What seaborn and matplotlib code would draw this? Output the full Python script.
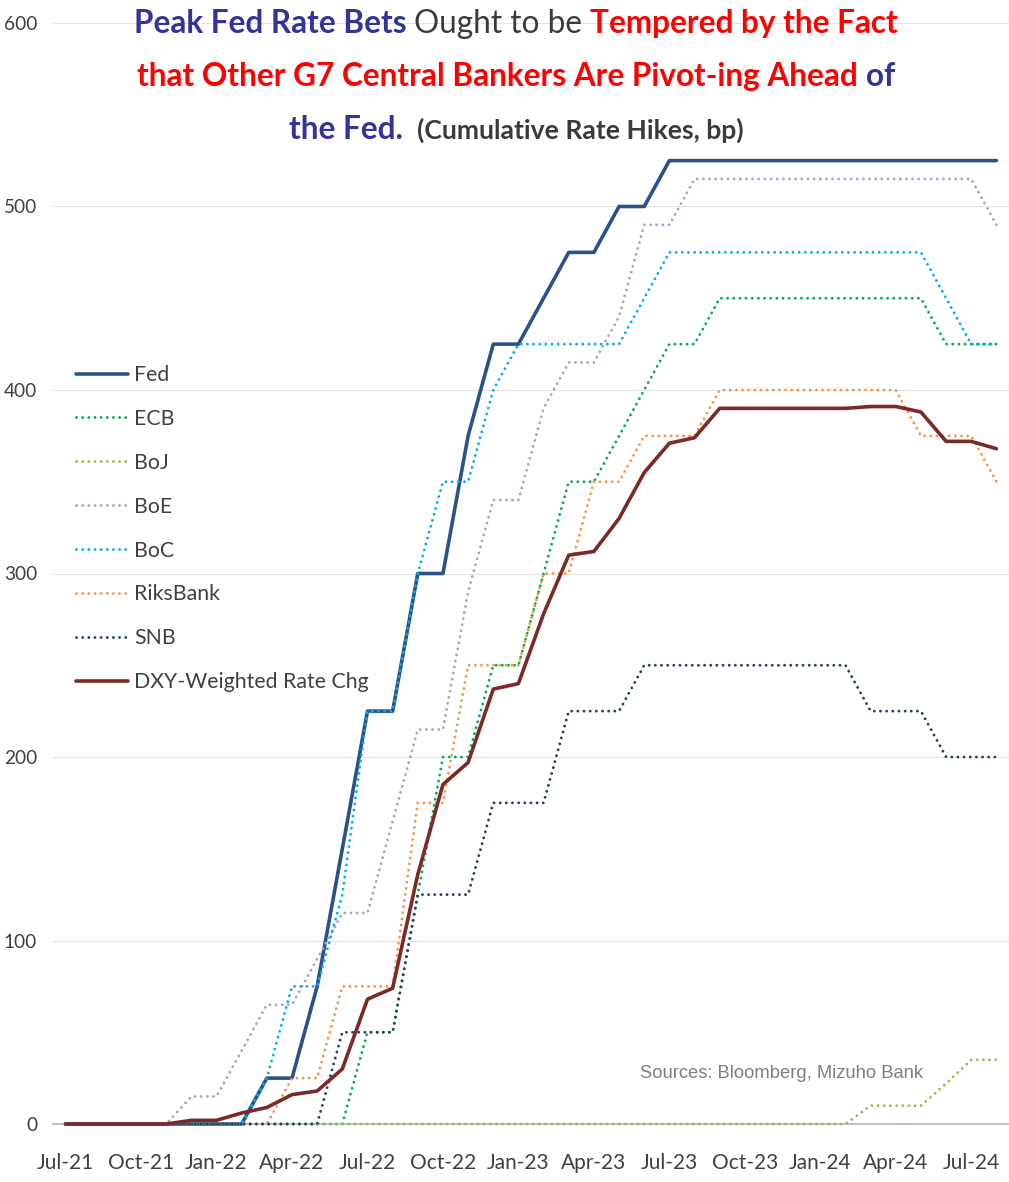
import matplotlib
matplotlib.use("Agg")
import matplotlib.pyplot as plt
from matplotlib.transforms import IdentityTransform
import numpy as np
import pandas as pd
import seaborn as sns

# ---------------- data ----------------
months = ["Jul-21", "Aug-21", "Sep-21", "Oct-21", "Nov-21", "Dec-21",
          "Jan-22", "Feb-22", "Mar-22", "Apr-22", "May-22", "Jun-22",
          "Jul-22", "Aug-22", "Sep-22", "Oct-22", "Nov-22", "Dec-22",
          "Jan-23", "Feb-23", "Mar-23", "Apr-23", "May-23", "Jun-23",
          "Jul-23", "Aug-23", "Sep-23", "Oct-23", "Nov-23", "Dec-23",
          "Jan-24", "Feb-24", "Mar-24", "Apr-24", "May-24", "Jun-24",
          "Jul-24", "Aug-24"]

fed = [0, 0, 0, 0, 0, 0,
       0, 0, 25, 25, 75, 150, 225, 225, 300, 300, 375, 425,
       425, 450, 475, 475, 500, 500, 525, 525, 525, 525, 525, 525,
       525, 525, 525, 525, 525, 525, 525, 525]
ecb = [0, 0, 0, 0, 0, 0,
       0, 0, 0, 0, 0, 0, 50, 50, 125, 200, 200, 250,
       250, 300, 350, 350, 375, 400, 425, 425, 450, 450, 450, 450,
       450, 450, 450, 450, 450, 425, 425, 425]
boj = [0, 0, 0, 0, 0, 0,
       0, 0, 0, 0, 0, 0, 0, 0, 0, 0, 0, 0,
       0, 0, 0, 0, 0, 0, 0, 0, 0, 0, 0, 0,
       0, 0, 10, 10, 10, 22, 35, 35]
boe = [0, 0, 0, 0, 0, 15,
       15, 40, 65, 65, 90, 115, 115, 165, 215, 215, 290, 340,
       340, 390, 415, 415, 440, 490, 490, 515, 515, 515, 515, 515,
       515, 515, 515, 515, 515, 515, 515, 490]
boc = [0, 0, 0, 0, 0, 0,
       0, 0, 25, 75, 75, 125, 225, 225, 300, 350, 350, 400,
       425, 425, 425, 425, 425, 450, 475, 475, 475, 475, 475, 475,
       475, 475, 475, 475, 475, 450, 425, 425]
riksbank = [0, 0, 0, 0, 0, 0,
            0, 0, 0, 25, 25, 75, 75, 75, 175, 175, 250, 250,
            250, 300, 300, 350, 350, 375, 375, 375, 400, 400, 400, 400,
            400, 400, 400, 400, 375, 375, 375, 350]
snb = [0, 0, 0, 0, 0, 0,
       0, 0, 0, 0, 0, 50, 50, 50, 125, 125, 125, 175,
       175, 175, 225, 225, 225, 250, 250, 250, 250, 250, 250, 250,
       250, 250, 225, 225, 225, 200, 200, 200]
dxy = [0, 0, 0, 0, 0, 2,
       2, 6, 9, 16, 18, 30, 68, 74, 136, 185, 197, 237,
       240, 278, 310, 312, 330, 355, 371, 374, 390, 390, 390, 390,
       390, 390, 391, 391, 388, 372, 372, 368]

series_names = ["Fed", "ECB", "BoJ", "BoE", "BoC", "RiksBank", "SNB",
                "DXY-Weighted Rate Chg"]
y_ticks = [0, 100, 200, 300, 400, 500, 600]

title_line1 = ["Peak Fed Rate Bets", "Ought to be", "Tempered by the Fact"]
title_line2 = ["that Other G7 Central Bankers Are Pivot-ing Ahead", "of"]
title_line3 = ["the Fed.", "(Cumulative Rate Hikes, bp)"]
source_text = "Sources: Bloomberg, Mizuho Bank"

# ---------------- style ----------------
sns.set_style("white")
FONT = "Lato"
plt.rcParams["font.family"] = [FONT, "DejaVu Sans"]

W, H, DPI = 1009, 1182, 100
ID = IdentityTransform()

fig = plt.figure(figsize=(W / DPI, H / DPI), dpi=DPI)
fig.patch.set_facecolor("white")
ax = fig.add_axes([53 / W, (H - 1124) / H, (W - 53) / W, (1124 - 23) / H])
ax.set_facecolor("white")


def rend():
    return fig.canvas.get_renderer()


def text_w(s, size, **kw):
    t = fig.text(0, 0, s, fontsize=size, **kw)
    w = t.get_window_extent(renderer=rend()).width
    t.remove()
    return w


def fit(s, target, **kw):
    return 20.0 * target / text_w(s, 20.0, **kw)


df = pd.DataFrame({"pos": np.arange(len(months)), "month": months,
                   "Fed": fed, "ECB": ecb, "BoJ": boj, "BoE": boe,
                   "BoC": boc, "RiksBank": riksbank, "SNB": snb,
                   "DXY-Weighted Rate Chg": dxy})

DOT = (0, (0.01, 2.1))
DLW = 2.1
styles = {
    "Fed": ("#2B5288", 2.6, "-"),
    "ECB": ("#00B050", DLW, DOT),
    "BoJ": ("#92C050", DLW, DOT),
    "BoE": ("#B1A0C9", DLW, DOT),
    "BoC": ("#00B0F0", DLW, DOT),
    "RiksBank": ("#F7964A", DLW, DOT),
    "SNB": ("#254061", DLW, DOT),
    "DXY-Weighted Rate Chg": ("#7A2B27", 2.6, "-"),
}

for name in series_names:
    col, lw, ls = styles[name]
    sns.lineplot(data=df, x="pos", y=name, ax=ax, color=col, linewidth=lw,
                 linestyle=ls, dash_capstyle="round", solid_capstyle="round",
                 solid_joinstyle="round", label=name, zorder=3, clip_on=False)

if ax.get_legend() is not None:
    ax.get_legend().remove()
ax.set_xlabel("")
ax.set_ylabel("")

# ---------------- axes ----------------
tick_fs = fit("Oct-21", 66, family=[FONT, "DejaVu Sans"])
ytick_fs = fit("600", 33, family=[FONT, "DejaVu Sans"])
ax.set_xlim(-0.5, len(months) - 0.5)
ax.set_ylim(0, 600)
ax.set_yticks(y_ticks)
ax.set_yticklabels([str(v) for v in y_ticks])
ax.set_xticks(np.arange(-0.5, len(months) - 1, 3))
ax.set_xticklabels([])
ax.set_xticks(np.arange(0, len(months), 3), minor=True)
ax.set_xticklabels(months[::3], minor=True)
ax.tick_params(axis="x", which="major", length=5.8, width=1.4,
               color="#BFBFBF", direction="out")
ax.tick_params(axis="x", which="minor", length=0, pad=21,
               labelsize=tick_fs, labelcolor="#404040")
ax.tick_params(axis="y", length=0, pad=11.5, labelsize=ytick_fs,
               labelcolor="#404040")
for s in ["left", "right", "top"]:
    ax.spines[s].set_visible(False)
ax.spines["bottom"].set_color("#BFBFBF")
ax.spines["bottom"].set_linewidth(1.5)
ax.yaxis.grid(True, color="#E3E3E3", linewidth=0.8)
ax.xaxis.grid(False)
ax.set_axisbelow(True)

# ---------------- legend ----------------
leg_fs = fit("DXY-Weighted Rate Chg", 234, family=[FONT, "DejaVu Sans"])
fs_px = leg_fs * DPI / 72.0
handles, labels = ax.get_legend_handles_labels()


def make_legend(spacing, anchor):
    return ax.legend(handles, labels, loc="upper left", bbox_to_anchor=anchor,
                     bbox_transform=ID, frameon=False, fontsize=leg_fs,
                     handlelength=52 / fs_px, handletextpad=6 / fs_px,
                     labelspacing=spacing, borderpad=0, borderaxespad=0,
                     labelcolor="#404040")


anchor = (76, H - 352)
spacing = 0.8
leg = make_legend(spacing, anchor)
fig.canvas.draw()
bbs = [t.get_window_extent(renderer=rend()) for t in leg.get_texts()]
pitch = ((bbs[0].y0 + bbs[0].y1) / 2 - (bbs[-1].y0 + bbs[-1].y1) / 2) / (len(bbs) - 1)
spacing = spacing + (43.9 - pitch) / fs_px
leg.remove()
leg = make_legend(spacing, anchor)
fig.canvas.draw()
bbs = [t.get_window_extent(renderer=rend()) for t in leg.get_texts()]
dx = 134 - bbs[0].x0
dy = (H - 375) - (bbs[0].y0 + bbs[0].y1) / 2
leg.set_bbox_to_anchor((anchor[0] + dx, anchor[1] + dy), transform=ID)

# ---------------- title ----------------
BLUE = "#333399"
RED = "#FF0000"
DARK = "#3A3A3A"


def space_w(size, weight):
    return text_w("x x", size, fontweight=weight) - text_w("xx", size, fontweight=weight)


def line_width(pieces, gap_scale=1.0):
    total = 0
    for i, (t, c, wt, sz) in enumerate(pieces):
        total += text_w(t, sz, fontweight=wt)
        if i < len(pieces) - 1:
            total += space_w(sz, wt) * gap_scale
    return total


base = [(title_line1[0], BLUE, "bold", 20), (title_line1[1], DARK, "normal", 20),
        (title_line1[2], RED, "bold", 20)]
title_fs = 20 * 766 / line_width(base)
paren_fs = fit(title_line3[1], 326, fontweight="bold")

lines = [
    ([(title_line1[0], BLUE, "bold", title_fs), (title_line1[1], DARK, "normal", title_fs),
      (title_line1[2], RED, "bold", title_fs)], 33, 1.0),
    ([(title_line2[0], RED, "bold", title_fs), (title_line2[1], BLUE, "bold", title_fs)], 86, 1.0),
    ([(title_line3[0], BLUE, "bold", title_fs), (title_line3[1], DARK, "bold", paren_fs)], 139, 1.8),
]
CX = 516
for pieces, base_y, gscale in lines:
    total = line_width(pieces, gscale)
    x = CX - total / 2
    for i, (t, c, wt, sz) in enumerate(pieces):
        fig.text(x, H - base_y, t, transform=ID, ha="left", va="baseline",
                 fontsize=sz, fontweight=wt, color=c)
        x += text_w(t, sz, fontweight=wt)
        if i < len(pieces) - 1:
            x += space_w(sz, wt) * gscale

# ---------------- source note ----------------
SRC_FAM = ["Liberation Sans Narrow", "Liberation Sans", "DejaVu Sans"]
src_fs = fit(source_text, 282, family=SRC_FAM)
fig.text(782, H - 1073, source_text, transform=ID, ha="center", va="center",
         fontsize=src_fs, color="#7F7F7F", family=SRC_FAM)

fig.savefig("out.png", dpi=DPI, facecolor="white")
